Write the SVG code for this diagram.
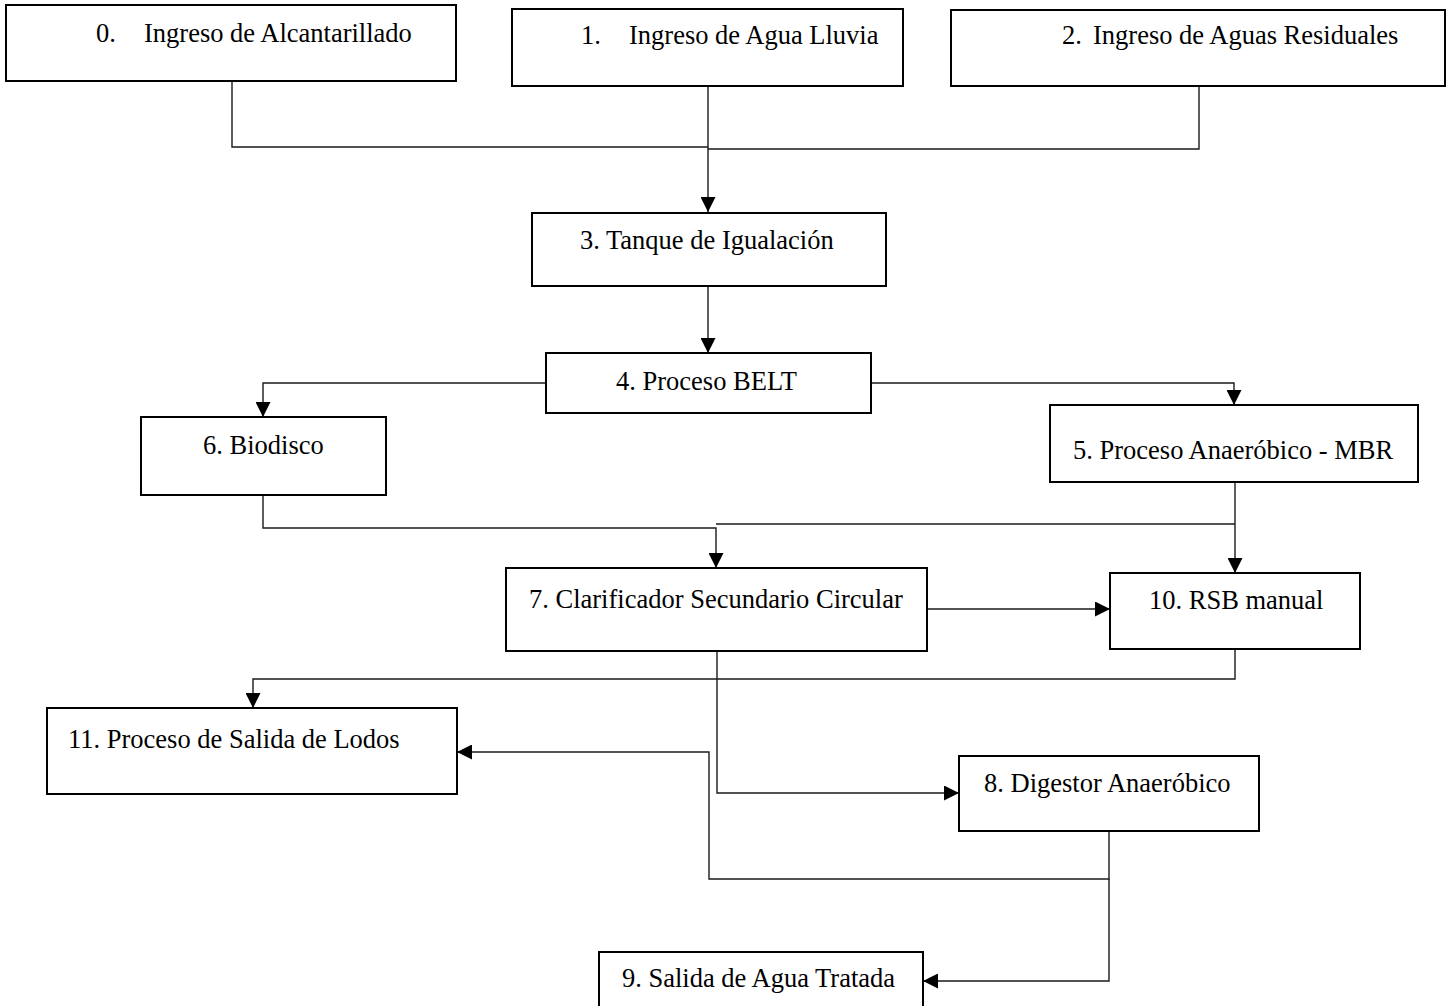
<svg xmlns="http://www.w3.org/2000/svg" width="1451" height="1006" viewBox="0 0 1451 1006">
  <style>
    .box { fill: #ffffff; stroke: #000000; stroke-width: 2; }
    .lbl { font-family: "Liberation Serif", "Times New Roman", serif; font-size: 26.5px; fill: #000000; }
    .wire { fill: none; stroke: #1a1a1a; stroke-width: 1.4; }
    .wire.arrow { marker-end: url(#head); }
  </style>
  <defs>
    <marker id="head" viewBox="0 0 16 16" refX="16" refY="8" markerWidth="16" markerHeight="15" markerUnits="userSpaceOnUse" orient="auto">
      <path d="M0,0 L16,8 L0,16 z" fill="#000000"/>
    </marker>
  </defs>

  <rect width="1451" height="1006" fill="#ffffff"/>

  <g id="connectors">
    <path class="wire" d="M232,81 V147 H708"/>
    <path class="wire arrow" d="M708,86 V212"/>
    <path class="wire" d="M1199,86 V149 H708"/>
    <path class="wire arrow" d="M708,286 V353"/>
    <path class="wire arrow" d="M546,383 H263 V417"/>
    <path class="wire arrow" d="M871,383 H1234 V405"/>
    <path class="wire arrow" d="M263,495 V528 H716 V568"/>
    <path class="wire" d="M1235,524 H716"/>
    <path class="wire arrow" d="M1235,482 V573"/>
    <path class="wire arrow" d="M927,609 H1110"/>
    <path class="wire arrow" d="M1235,649 V679 H253 V708"/>
    <path class="wire arrow" d="M717,651 V793 H959"/>
    <path class="wire arrow" d="M1109,831 V879 H709 V752 H457"/>
    <path class="wire arrow" d="M1109,879 V981 H923"/>
  </g>

  <g id="n0">
    <rect class="box" x="6" y="5" width="450" height="76"/>
    <text class="lbl" x="96" y="42">0.</text>
    <text class="lbl" x="144" y="42">Ingreso de Alcantarillado</text>
  </g>
  <g id="n1">
    <rect class="box" x="512" y="9" width="391" height="77"/>
    <text class="lbl" x="581" y="44">1.</text>
    <text class="lbl" x="629" y="44">Ingreso de Agua Lluvia</text>
  </g>
  <g id="n2">
    <rect class="box" x="951" y="10" width="494" height="76"/>
    <text class="lbl" x="1062" y="44">2.</text>
    <text class="lbl" x="1093" y="44">Ingreso de Aguas Residuales</text>
  </g>
  <g id="n3">
    <rect class="box" x="532" y="213" width="354" height="73"/>
    <text class="lbl" x="580" y="249">3. Tanque de Igualación</text>
  </g>
  <g id="n4">
    <rect class="box" x="546" y="353" width="325" height="60"/>
    <text class="lbl" x="616" y="390">4. Proceso BELT</text>
  </g>
  <g id="n5">
    <rect class="box" x="1050" y="405" width="368" height="77"/>
    <text class="lbl" x="1073" y="459">5. Proceso Anaeróbico - MBR</text>
  </g>
  <g id="n6">
    <rect class="box" x="141" y="417" width="245" height="78"/>
    <text class="lbl" x="203" y="454">6. Biodisco</text>
  </g>
  <g id="n7">
    <rect class="box" x="506" y="568" width="421" height="83"/>
    <text class="lbl" x="529" y="608">7. Clarificador Secundario Circular</text>
  </g>
  <g id="n10">
    <rect class="box" x="1110" y="573" width="250" height="76"/>
    <text class="lbl" x="1149" y="609">10. RSB manual</text>
  </g>
  <g id="n11">
    <rect class="box" x="47" y="708" width="410" height="86"/>
    <text class="lbl" x="68" y="748">11. Proceso de Salida de Lodos</text>
  </g>
  <g id="n8">
    <rect class="box" x="959" y="756" width="300" height="75"/>
    <text class="lbl" x="984" y="792">8. Digestor Anaeróbico</text>
  </g>
  <g id="n9">
    <rect class="box" x="599" y="952" width="324" height="60"/>
    <text class="lbl" x="622" y="987">9. Salida de Agua Tratada</text>
  </g>
</svg>
